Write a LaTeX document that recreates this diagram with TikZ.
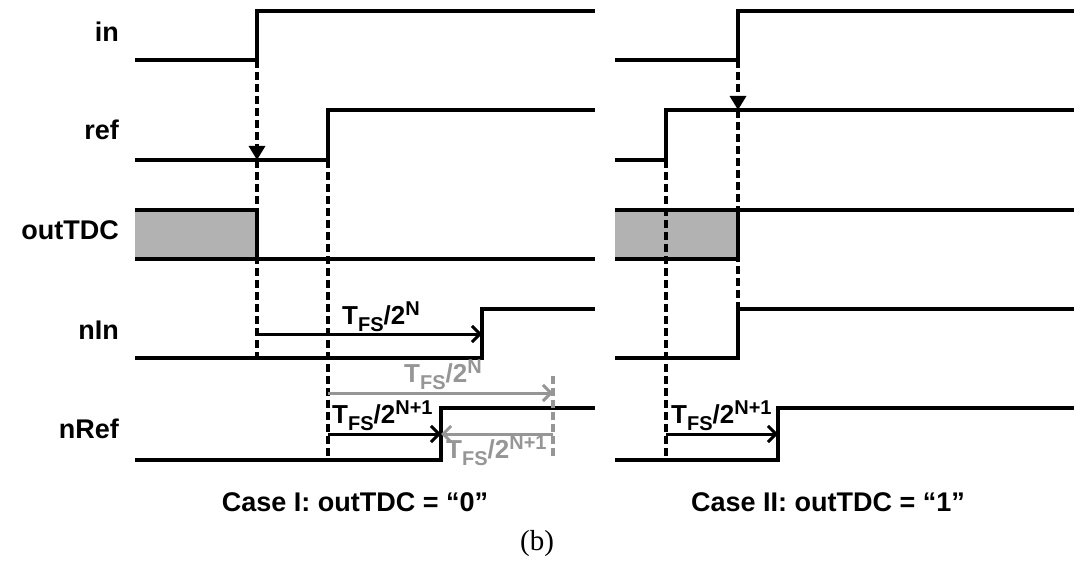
\documentclass[tikz,border=0pt]{standalone}
\usepackage{fontspec}
\setmainfont{Liberation Sans}
\newfontfamily\capserif{Liberation Serif}
\usetikzlibrary{arrows.meta}

\definecolor{boxgray}{RGB}{178,178,178}
\definecolor{dimtext}{RGB}{150,150,150}

% T_FS/2^x label
\newcommand{\tfs}[1]{T\raisebox{-7pt}{\fontsize{20}{20}\selectfont FS}/2\raisebox{9pt}{\fontsize{20}{20}\selectfont #1}}

\tikzset{
    sig/.style={line width=3.5pt, line join=miter},
    guide/.style={line width=3.2pt, dash pattern=on 8pt off 4pt},
    meas/.style={line width=3pt, -{Straight Barb[length=8pt,width=16pt]}},
    signame/.style={anchor=base east, inner sep=0pt, font=\fontsize{27}{30}\selectfont\bfseries},
    tlabel/.style={anchor=base west, inner sep=0pt, font=\fontsize{26}{28}\selectfont\bfseries},
    caption/.style={anchor=base, inner sep=0pt, font=\fontsize{27}{30}\selectfont\bfseries}
}

\begin{document}
\begin{tikzpicture}[x=1pt,y=-1pt]
    \useasboundingbox (0,0) rectangle (1074,564);

    % Signal names
    \foreach \name/\y in {in/42,ref/140,outTDC/240,nIn/339,nRef/438}
        \node[signame] (lbl-\name) at (119,\y) {\name};

    % Rows of the interval arrows
    \coordinate (rowA) at (0,334);
    \coordinate (rowB) at (0,393);
    \coordinate (rowC) at (0,434);

    % ---- Case I ----
    \coordinate (inI) at (257,60);
    \coordinate (refI) at (328,160);
    \coordinate (nInI) at (482,358);
    \coordinate (nRefI) at (441,460);
    \coordinate (fsI) at (553,376);

    % Draw waveforms
    \fill[boxgray] (135,210) rectangle (257,259);
    \draw[sig] (135,60) -- (inI) |- (595,11);
    \draw[sig] (135,160) -- (refI) |- (595,110);
    \draw[sig] (135,210) -| (257,259);
    \draw[sig] (135,259) -- (595,259);
    \draw[sig] (135,358) -- (nInI) |- (595,309);
    \draw[sig] (135,460) -- (nRefI) |- (595,408);

    % Draw dashed guides
    \draw[guide,-{Triangle[length=14pt,width=16pt]}] (inI) -- (inI |- refI);
    \draw[guide] (inI |- refI) -- (inI |- nInI);
    \draw[guide] (refI) -- (refI |- nRefI);
    \draw[guide,dimtext] (fsI) -- ++(0,82);

    % Draw intervals
    \draw[meas] (inI |- rowA) -- (nInI |- rowA);
    \draw[meas,dimtext] (refI |- rowB) -- (fsI |- rowB);
    \draw[meas] (refI |- rowC) -- (nRefI |- rowC);
    \draw[meas,dimtext] (fsI |- rowC) -- (nRefI |- rowC);
    \node[tlabel] (tN) at (342,324) {\tfs{N}};
    \node[tlabel,dimtext] (tNg) at (404,382) {\tfs{N}};
    \node[tlabel] (tN1) at (332,423) {\tfs{N+1}};
    \node[tlabel,dimtext] (tN1g) at (446,458) {\tfs{N+1}};

    % ---- Case II ----
    \coordinate (inII) at (738,60);
    \coordinate (refII) at (666,160);
    \coordinate (nInII) at (738,358);
    \coordinate (nRefII) at (778,460);

    % Draw waveforms
    \fill[boxgray] (615,210) rectangle (738,259);
    \draw[sig] (615,60) -- (inII) |- (1074,11);
    \draw[sig] (615,160) -- (refII) |- (1074,110);
    \draw[sig] (615,259) -| (738,210);
    \draw[sig] (615,210) -- (1074,210);
    \draw[sig] (615,358) -- (nInII) |- (1074,309);
    \draw[sig] (615,460) -- (nRefII) |- (1074,408);

    % Draw dashed guides
    \draw[guide,-{Triangle[length=14pt,width=16pt]}] (inII) -- (inII |- 0,110);
    \draw[guide] (inII |- 0,110) -- (inII |- 0,309);
    \draw[guide] (refII) -- (refII |- nRefII);

    % Draw interval
    \draw[meas] (refII |- rowC) -- (nRefII |- rowC);
    \node[tlabel] (tN1r) at (671,423) {\tfs{N+1}};

    % Captions
    \node[caption] (capI) at (355,511) {Case I: outTDC = “0”};
    \node[caption] (capII) at (828,511) {Case II: outTDC = “1”};
    \node[anchor=base, inner sep=0pt, font=\capserif\fontsize{29}{32}\selectfont] (capb) at (537,550) {(b)};
\end{tikzpicture}
\end{document}
